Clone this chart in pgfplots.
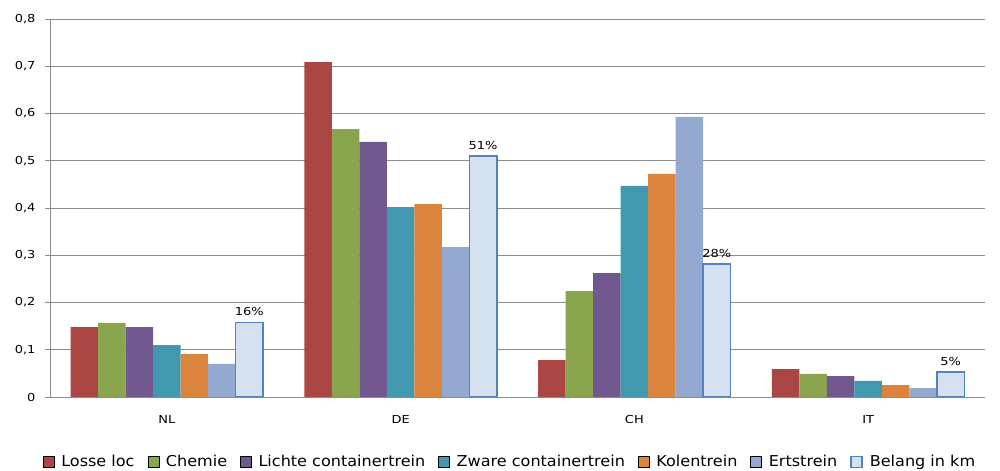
\documentclass[border=0pt]{standalone}
\usepackage{fontspec}
\setmainfont{DejaVu Sans}
\newfontfamily\tickfont[FakeStretch=1.18]{DejaVu Sans}
\newfontfamily\legfont[FakeStretch=1.07]{DejaVu Sans}
\usepackage{pgfplots}
\pgfplotsset{compat=1.18}
\definecolor{cLoc}{HTML}{AA4643}
\definecolor{cChe}{HTML}{89A54E}
\definecolor{cLic}{HTML}{71588F}
\definecolor{cZwa}{HTML}{4198AF}
\definecolor{cKol}{HTML}{DB843D}
\definecolor{cErt}{HTML}{93A9CF}
\definecolor{cBelF}{HTML}{D5E0F0}
\definecolor{cBelD}{HTML}{5283C0}
\definecolor{cGrid}{HTML}{8C8C8C}
\begin{document}
\begin{tikzpicture}
\path[use as bounding box] (0,0) rectangle (1000bp,471bp);
\begin{axis}[
  at={(50bp,74bp)}, anchor=south west,
  scale only axis, width=935bp, height=378bp,
  ybar=0pt, bar width=27.5bp,
  xmin=-0.5, xmax=3.5, ymin=0, ymax=0.8,
  axis x line*=bottom, axis y line*=left,
  axis line style={cGrid, line width=0.8bp},
  xtick={0,1,2,3}, xticklabels={NL,DE,CH,IT},
  extra x ticks={-0.5,0.5,1.5,2.5,3.5}, extra x tick labels={},
  extra x tick style={major tick length=5bp, tick style={cGrid, line width=0.8bp}, tick align=outside, grid=none},
  x tick style={draw=none},
  xticklabel style={font=\tickfont\fontsize{11bp}{12bp}\selectfont, yshift=-10bp},
  ytick={0,0.1,0.2,0.3,0.4,0.5,0.6,0.7,0.8},
  yticklabels={0,{0,1},{0,2},{0,3},{0,4},{0,5},{0,6},{0,7},{0,8}},
  yticklabel style={font=\tickfont\fontsize{11bp}{12bp}\selectfont, xshift=-6bp},
  y tick style={cGrid, line width=0.8bp}, tick align=outside, major tick length=5bp,
  ymajorgrids, grid style={cGrid, line width=0.8bp},
  /pgf/number format/assume math mode=true,
  legend columns=-1,
  legend style={draw=none, at={(0.492,-0.172)}, anchor=center,
    font=\legfont\fontsize{15bp}{16bp}\selectfont,
    /tikz/every even column/.append style={column sep=11bp},
    /tikz/every odd column/.append style={column sep=5bp},
    inner sep=0pt},
  legend image code/.code={\draw[#1] (0bp,-5.5bp) rectangle (11bp,5.5bp);},
  nodes near coords style={font=\tickfont\fontsize{11bp}{12bp}\selectfont, inner sep=6bp},
]
\addplot[fill=cLoc, draw=none] coordinates {(0,0.148) (1,0.709) (2,0.078) (3,0.059)};
\addplot[fill=cChe, draw=none] coordinates {(0,0.157) (1,0.567) (2,0.224) (3,0.049)};
\addplot[fill=cLic, draw=none] coordinates {(0,0.148) (1,0.540) (2,0.262) (3,0.044)};
\addplot[fill=cZwa, draw=none] coordinates {(0,0.110) (1,0.402) (2,0.447) (3,0.034)};
\addplot[fill=cKol, draw=none] coordinates {(0,0.091) (1,0.408) (2,0.472) (3,0.025)};
\addplot[fill=cErt, draw=none] coordinates {(0,0.070) (1,0.317) (2,0.593) (3,0.019)};
\addplot[fill=cBelF, draw=cBelD, line width=1.6bp,
  nodes near coords, point meta=explicit symbolic,
  every node near coord/.append style={text=black}]
  coordinates {(0,0.158) [16\%] (1,0.510) [51\%] (2,0.281) [28\%] (3,0.053) [5\%]};
\legend{Losse loc, Chemie, Lichte containertrein, Zware containertrein, Kolentrein, Ertstrein, Belang in km}
\end{axis}
\end{tikzpicture}
\end{document}
